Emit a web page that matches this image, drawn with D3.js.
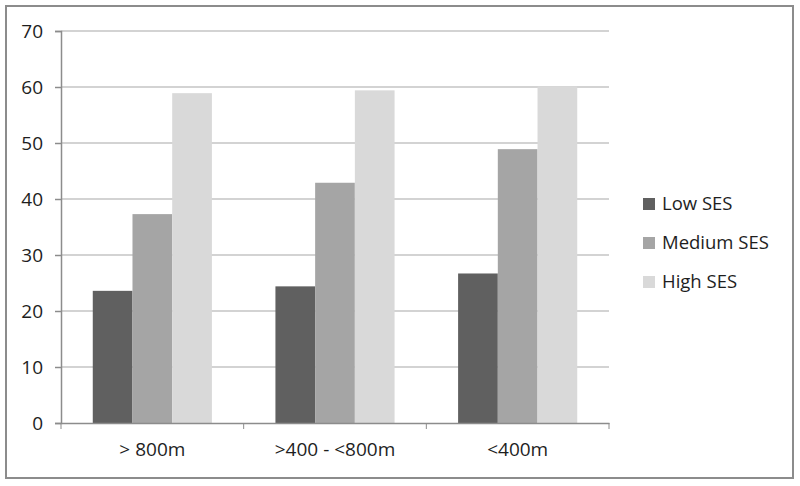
<!DOCTYPE html>
<html>
<head>
<meta charset="utf-8">
<script src="https://cdn.jsdelivr.net/npm/d3@7"></script>
<style>
  body { margin: 0; background: #fff; }
  svg text { font-family: "Open Sans", sans-serif; fill: #1e1e1e; }
</style>
</head>
<body>
<svg id="chart"></svg>
<script>
'use strict';

let WIDTH = 800;
let HEIGHT = 486;

let categories = ['> 800m', '>400 - <800m', '<400m'];
let seriesNames = ['Low SES', 'Medium SES', 'High SES'];
let lowSES = [23.6, 24.4, 26.7];
let mediumSES = [37.3, 42.9, 48.9];
let highSES = [58.9, 59.4, 60.1];
let yTicks = [0, 10, 20, 30, 40, 50, 60, 70];

let COLOR = {
    'Low SES': '#606060',
    'Medium SES': '#a5a5a5',
    'High SES': '#d9d9d9'
};

let seriesValues = [lowSES, mediumSES, highSES];

let plot = { left: 61, right: 609, top: 31, bottom: 423 };

let svg = d3.select('#chart').attr('width', WIDTH).attr('height', HEIGHT);

// outer frame
svg.append('rect')
    .attr('x', 6).attr('y', 6)
    .attr('width', 787).attr('height', 472)
    .attr('fill', '#fff')
    .attr('stroke', '#8c8c8c')
    .attr('stroke-width', 2);

let x0 = d3.scaleBand().domain(categories).range([plot.left, plot.right]);
let x1 = d3.scaleBand().domain(seriesNames)
    .range([0, x0.bandwidth()])
    .paddingOuter(0.8);
let y = d3.scaleLinear().domain([0, 70]).range([plot.bottom, plot.top]);

// gridlines
svg.append('g')
    .selectAll('line')
    .data(yTicks.filter(function(d) { return d > 0; }))
    .enter()
    .append('line')
    .attr('x1', plot.left).attr('x2', plot.right)
    .attr('y1', function(d) { return y(d); })
    .attr('y2', function(d) { return y(d); })
    .attr('stroke', '#c4c4c4')
    .attr('stroke-width', 1.5);

// bars
let groups = svg.append('g')
    .selectAll('g')
    .data(categories)
    .enter()
    .append('g')
    .attr('transform', function(d) { return 'translate(' + x0(d) + ',0)'; });

groups.selectAll('rect')
    .data(function(c, i) {
        return seriesNames.map(function(s, j) { return { s: s, v: seriesValues[j][i] }; });
    })
    .enter()
    .append('rect')
    .attr('x', function(d) { return x1(d.s); })
    .attr('y', function(d) { return y(d.v); })
    .attr('width', x1.bandwidth())
    .attr('height', function(d) { return y(0) - y(d.v); })
    .attr('fill', function(d) { return COLOR[d.s]; });

// y axis
let yAxis = svg.append('g')
    .attr('transform', 'translate(' + plot.left + ',0)')
    .call(d3.axisLeft(y).tickValues(yTicks).tickSize(6).tickPadding(12));
yAxis.selectAll('text').style('font-size', '19px');

// x axis
let xAxis = svg.append('g')
    .attr('transform', 'translate(0,' + plot.bottom + ')')
    .call(d3.axisBottom(x0).tickSize(0).tickPadding(20));
xAxis.selectAll('text').style('font-size', '19px');
xAxis.append('g')
    .selectAll('line')
    .data(categories.concat(['end']))
    .enter()
    .append('line')
    .attr('x1', function(d, i) { return plot.left + i * x0.bandwidth(); })
    .attr('x2', function(d, i) { return plot.left + i * x0.bandwidth(); })
    .attr('y1', 0).attr('y2', 6)
    .attr('stroke', '#8c8c8c');

svg.selectAll('.domain, .tick line').attr('stroke', '#8c8c8c').attr('stroke-width', 1.5);

// legend
let legend = svg.append('g')
    .selectAll('g')
    .data(seriesNames)
    .enter()
    .append('g')
    .attr('transform', function(d, i) { return 'translate(643,' + (204 + i * 39) + ')'; });

legend.append('rect')
    .attr('x', 0).attr('y', -6)
    .attr('width', 12).attr('height', 12)
    .attr('fill', function(d) { return COLOR[d]; });

legend.append('text')
    .attr('x', 19)
    .attr('dy', '0.35em')
    .style('font-size', '18.5px')
    .text(function(d) { return d; });
</script>
</body>
</html>
